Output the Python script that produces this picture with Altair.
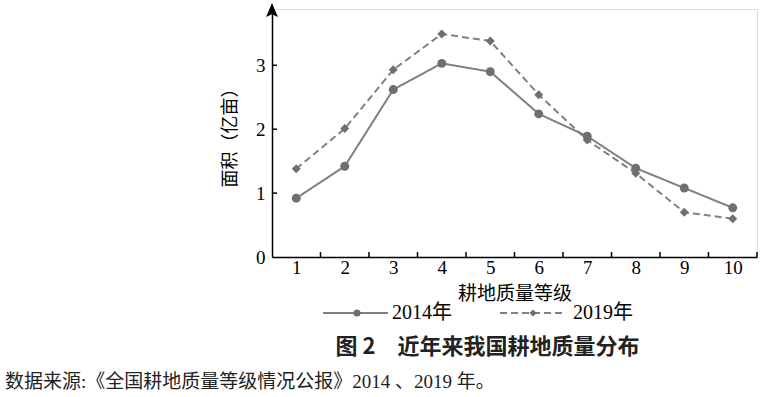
import altair as alt
import pandas as pd

grades = [1, 2, 3, 4, 5, 6, 7, 8, 9, 10]
area_2014 = [0.92, 1.42, 2.62, 3.03, 2.90, 2.24, 1.89, 1.39, 1.08, 0.77]
area_2019 = [1.38, 2.01, 2.93, 3.49, 3.38, 2.54, 1.83, 1.31, 0.70, 0.60]
y_ticks = [1, 2, 3]
years = ["2014年", "2019年"]

rows = []
for g, a, b in zip(grades, area_2014, area_2019):
    rows.append({"grade": g, "area": a, "year": years[0]})
    rows.append({"grade": g, "area": b, "year": years[1]})
df = pd.DataFrame(rows)
bounds = pd.DataFrame({"b": [g + 0.5 for g in grades]})
yt = pd.DataFrame({"v": y_ticks})

W, H = 485, 248
YMAX = 3.881
LINE = "#808080"
MARK = "#6f6f6f"
SERIF = "Liberation Serif, Noto Sans CJK SC"
CJK = "Noto Sans CJK SC"

xs = alt.Scale(domain=[0.5, 10.5], nice=False, zero=False)
ys = alt.Scale(domain=[0, YMAX], nice=False)

base = alt.Chart(df)
lines = base.mark_line(strokeWidth=2, color=LINE).encode(
    x=alt.X("grade:Q", scale=xs,
            axis=alt.Axis(values=grades, ticks=False, grid=False, domainColor="black",
                          domainWidth=1.5, labelFont=SERIF, labelFontSize=19,
                          labelColor="black", labelPadding=1, title="耕地质量等级",
                          titleFont=CJK, titleFontSize=19, titleFontWeight="normal",
                          titleColor="black", titlePadding=7, format="d")),
    y=alt.Y("area:Q", scale=ys,
            axis=alt.Axis(values=[0, 1, 2, 3], ticks=False, grid=False, domainColor="black",
                          domainWidth=1.5, labelFont=SERIF, labelFontSize=19,
                          labelColor="black", labelPadding=7, title="面积（亿亩）",
                          titleFont=CJK, titleFontSize=18, titleFontWeight="normal",
                          titleColor="black", titlePadding=16, format="d")),
    strokeDash=alt.StrokeDash("year:N", scale=alt.Scale(domain=years, range=[[1, 0], [7, 4]]), legend=None),
    detail="year:N",
)
points = base.mark_point(filled=True, size=80, color=MARK, opacity=1).encode(
    x=alt.X("grade:Q", scale=xs),
    y=alt.Y("area:Q", scale=ys),
    shape=alt.Shape("year:N", scale=alt.Scale(domain=years, range=["circle", "diamond"]), legend=None),
)

xticks = alt.Chart(bounds).mark_rule(color="black", strokeWidth=1.5).encode(
    x=alt.X("b:Q", scale=xs), y=alt.value(H), y2=alt.value(H - 5))
yticks = alt.Chart(yt).mark_rule(color="black", strokeWidth=1.5).encode(
    y=alt.Y("v:Q", scale=ys), x=alt.value(0), x2=alt.value(5))

one = alt.Data(values=[{}])
arrow = alt.Chart(one).mark_point(
    shape="M0,-1L0.85,1L0,0.6L-0.85,1Z", filled=True, color="black", size=196, opacity=1
).encode(x=alt.value(0), y=alt.value(1))

LY = 304
leg_solid = alt.Chart(one).mark_rule(color=LINE, strokeWidth=2).encode(
    x=alt.value(51), x2=alt.value(116), y=alt.value(LY))
leg_dash = alt.Chart(one).mark_rule(color=LINE, strokeWidth=2, strokeDash=[7, 4]).encode(
    x=alt.value(228), x2=alt.value(293), y=alt.value(LY))
leg_c = alt.Chart(one).mark_point(shape="circle", filled=True, color=MARK, size=50, opacity=1).encode(
    x=alt.value(85), y=alt.value(LY))
leg_d = alt.Chart(one).mark_point(shape="diamond", filled=True, color=MARK, size=50, opacity=1).encode(
    x=alt.value(261), y=alt.value(LY))
leg_t1 = alt.Chart(one).mark_text(text=years[0], font=SERIF, fontSize=20, align="left",
                                  baseline="middle", color="black").encode(
    x=alt.value(120), y=alt.value(LY))
leg_t2 = alt.Chart(one).mark_text(text=years[1], font=SERIF, fontSize=20, align="left",
                                  baseline="middle", color="black").encode(
    x=alt.value(301), y=alt.value(LY))

title = alt.Chart(one).mark_text(text="图 2　近年来我国耕地质量分布", font=CJK, fontSize=22,
                                 fontWeight="bold", align="center", baseline="middle",
                                 color="#222222").encode(x=alt.value(215.5), y=alt.value(338))
source = alt.Chart(one).mark_text(text="数据来源:《全国耕地质量等级情况公报》2014 、2019 年。",
                                  font=SERIF, fontSize=19, align="left", baseline="middle",
                                  color="#222222").encode(x=alt.value(-267), y=alt.value(373))

chart = alt.layer(
    lines, points, xticks, yticks, arrow,
    leg_solid, leg_dash, leg_c, leg_d, leg_t1, leg_t2, title, source
).properties(
    width=W, height=H,
    autosize=alt.AutoSizeParams(type="none"),
    padding={"left": 272, "top": 9, "right": 7, "bottom": 140},
).configure_view(stroke=None).configure(background="white")

chart.save("out.html", embed_options={"renderer": "svg", "actions": False})
